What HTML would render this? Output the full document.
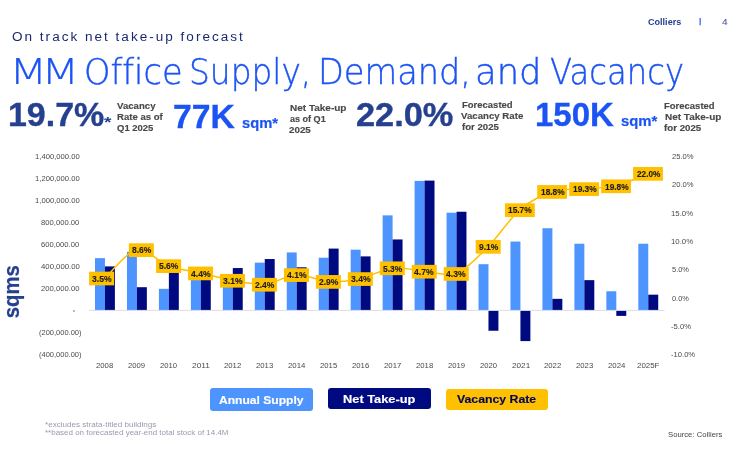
<!DOCTYPE html>
<html lang="en">
<head>
<meta charset="utf-8">
<title>MM Office Supply, Demand, and Vacancy</title>
<style>
html,body{margin:0;padding:0;background:#fff;}
body{width:740px;height:450px;position:relative;overflow:hidden;font-family:"Liberation Sans","DejaVu Sans",sans-serif;}
.t{position:absolute;white-space:nowrap;line-height:1;transform-origin:0 0;}
.chart{position:absolute;left:0;top:0;}
.leg{position:absolute;border-radius:3px;}
.ylab{position:absolute;left:0;top:0;white-space:nowrap;line-height:1;font-weight:bold;color:#25408f;transform-origin:0 0;-webkit-text-stroke:0.22px;}
</style>
</head>
<body>
<svg class="chart" width="740" height="450" viewBox="0 0 740 450">
<rect x="95.00" y="258.15" width="9.95" height="52.25" fill="#4d94ff"/>
<rect x="104.95" y="266.40" width="9.95" height="44.00" fill="#000a80"/>
<rect x="126.96" y="251.77" width="9.95" height="58.63" fill="#4d94ff"/>
<rect x="136.91" y="287.19" width="9.95" height="23.21" fill="#000a80"/>
<rect x="158.92" y="288.84" width="9.95" height="21.56" fill="#4d94ff"/>
<rect x="168.87" y="271.90" width="9.95" height="38.50" fill="#000a80"/>
<rect x="190.88" y="278.50" width="9.95" height="31.90" fill="#4d94ff"/>
<rect x="200.83" y="277.40" width="9.95" height="33.00" fill="#000a80"/>
<rect x="222.84" y="276.30" width="9.95" height="34.10" fill="#4d94ff"/>
<rect x="232.79" y="268.05" width="9.95" height="42.35" fill="#000a80"/>
<rect x="254.80" y="262.66" width="9.95" height="47.74" fill="#4d94ff"/>
<rect x="264.75" y="259.03" width="9.95" height="51.37" fill="#000a80"/>
<rect x="286.76" y="252.43" width="9.95" height="57.97" fill="#4d94ff"/>
<rect x="296.71" y="267.28" width="9.95" height="43.12" fill="#000a80"/>
<rect x="318.72" y="257.71" width="9.95" height="52.69" fill="#4d94ff"/>
<rect x="328.67" y="248.58" width="9.95" height="61.82" fill="#000a80"/>
<rect x="350.68" y="249.68" width="9.95" height="60.72" fill="#4d94ff"/>
<rect x="360.63" y="256.39" width="9.95" height="54.01" fill="#000a80"/>
<rect x="382.64" y="215.36" width="9.95" height="95.04" fill="#4d94ff"/>
<rect x="392.59" y="239.45" width="9.95" height="70.95" fill="#000a80"/>
<rect x="414.60" y="180.93" width="9.95" height="129.47" fill="#4d94ff"/>
<rect x="424.55" y="180.60" width="9.95" height="129.80" fill="#000a80"/>
<rect x="446.56" y="212.72" width="9.95" height="97.68" fill="#4d94ff"/>
<rect x="456.51" y="211.73" width="9.95" height="98.67" fill="#000a80"/>
<rect x="478.52" y="264.20" width="9.95" height="46.20" fill="#4d94ff"/>
<rect x="488.47" y="310.40" width="9.95" height="20.35" fill="#000a80"/>
<rect x="510.48" y="241.54" width="9.95" height="68.86" fill="#4d94ff"/>
<rect x="520.43" y="310.40" width="9.95" height="30.69" fill="#000a80"/>
<rect x="542.44" y="228.23" width="9.95" height="82.17" fill="#4d94ff"/>
<rect x="552.39" y="298.85" width="9.95" height="11.55" fill="#000a80"/>
<rect x="574.40" y="243.74" width="9.95" height="66.66" fill="#4d94ff"/>
<rect x="584.35" y="280.15" width="9.95" height="30.25" fill="#000a80"/>
<rect x="606.36" y="291.26" width="9.95" height="19.14" fill="#4d94ff"/>
<rect x="616.31" y="310.40" width="9.95" height="5.50" fill="#000a80"/>
<rect x="638.32" y="243.74" width="9.95" height="66.66" fill="#4d94ff"/>
<rect x="648.27" y="294.67" width="9.95" height="15.73" fill="#000a80"/>
<rect x="89" y="309.90" width="575.5" height="1" fill="#dcdde6"/>
<path d="M104.88,278.10 C109.41,274.01 127.78,250.93 136.84,249.25 C145.90,247.57 159.74,262.85 168.80,266.22 C177.86,269.59 191.70,271.00 200.76,273.01 C209.82,275.01 223.66,278.76 232.72,280.36 C241.78,281.97 255.62,285.12 264.68,284.32 C273.74,283.52 287.58,275.11 296.64,274.71 C305.70,274.31 319.54,280.93 328.60,281.49 C337.66,282.06 351.50,280.59 360.56,278.67 C369.62,276.74 383.46,268.96 392.52,267.92 C401.58,266.88 415.42,270.51 424.48,271.31 C433.54,272.11 447.38,277.10 456.44,273.57 C465.50,270.05 479.34,255.56 488.40,246.42 C497.46,237.28 511.30,216.86 520.36,209.08 C529.42,201.31 543.26,194.43 552.32,191.55 C561.38,188.66 575.22,189.52 584.28,188.72 C593.34,187.92 607.18,188.05 616.24,185.89 C625.30,183.72 643.67,175.21 648.20,173.44" fill="none" stroke="#ffc000" stroke-width="1.5" stroke-linejoin="round"/>
<rect x="89.08" y="271.65" width="25.0" height="13.7" fill="#ffc000"/>
<rect x="128.84" y="243.30" width="25.0" height="13.7" fill="#ffc000"/>
<rect x="156.10" y="259.27" width="25.0" height="13.7" fill="#ffc000"/>
<rect x="188.06" y="266.56" width="25.0" height="13.7" fill="#ffc000"/>
<rect x="220.02" y="273.91" width="25.0" height="13.7" fill="#ffc000"/>
<rect x="251.98" y="277.87" width="25.0" height="13.7" fill="#ffc000"/>
<rect x="283.94" y="268.26" width="25.0" height="13.7" fill="#ffc000"/>
<rect x="315.90" y="275.04" width="25.0" height="13.7" fill="#ffc000"/>
<rect x="347.86" y="272.22" width="25.0" height="13.7" fill="#ffc000"/>
<rect x="379.82" y="261.47" width="25.0" height="13.7" fill="#ffc000"/>
<rect x="411.78" y="264.86" width="25.0" height="13.7" fill="#ffc000"/>
<rect x="443.74" y="267.12" width="25.0" height="13.7" fill="#ffc000"/>
<rect x="475.70" y="239.97" width="25.0" height="13.7" fill="#ffc000"/>
<rect x="504.96" y="203.33" width="29.8" height="13.7" fill="#ffc000"/>
<rect x="537.22" y="185.10" width="29.8" height="13.7" fill="#ffc000"/>
<rect x="569.18" y="182.27" width="29.8" height="13.7" fill="#ffc000"/>
<rect x="601.14" y="179.44" width="29.8" height="13.7" fill="#ffc000"/>
<rect x="633.10" y="166.99" width="29.8" height="13.7" fill="#ffc000"/>
<rect x="73" y="310.6" width="1.9" height="0.8" fill="#4a4a4a"/>
</svg>
<div class="leg" style="left:210.2px;top:388.4px;width:102.9px;height:22.3px;background:#4d94ff;"></div>
<div class="leg" style="left:328.0px;top:388.3px;width:102.7px;height:21.0px;background:#000a80;"></div>
<div class="leg" style="left:445.7px;top:389.0px;width:102.7px;height:20.7px;background:#ffc000;"></div>
<div class="ylab" style="font-size:22.2px;transform:translate(1.4px,318.3px) rotate(-90deg) scaleX(0.915);">sqms</div>
<div class="t" style="left:648.20px;top:18.00px;color:#25408f;font-family:'Liberation Sans',sans-serif;font-size:8.4px;font-weight:bold;transform:scaleX(1.0826);">Colliers</div>
<div class="t" style="left:698.66px;top:16.90px;color:#4a74f6;font-family:'Liberation Sans',sans-serif;font-size:7.9px;font-weight:bold;-webkit-text-stroke:0.25px;transform:scaleX(1.1179);">|</div>
<div class="t" style="left:721.98px;top:17.80px;color:#3d4f95;font-family:'Liberation Sans',sans-serif;font-size:8.4px;transform:scaleX(1.2038);">4</div>
<div class="t" style="left:12.02px;top:30.50px;color:#1c2870;font-family:'Liberation Sans',sans-serif;font-size:12.5px;letter-spacing:1.85px;transform:scaleX(1.0836);">On track net take-up forecast</div>
<div class="t" style="left:8.80px;top:53.90px;color:#1c54f4;font-family:'DejaVu Sans Light','DejaVu Sans',sans-serif;font-weight:200;font-size:35.4px;font-variant-ligatures:none;-webkit-text-stroke:0.15px #1c54f4;letter-spacing:-5.1px;transform:scaleX(1.2621);">MM</div>
<div class="t" style="left:84.42px;top:53.90px;color:#1c54f4;font-family:'DejaVu Sans Light','DejaVu Sans',sans-serif;font-weight:200;font-size:35.4px;font-variant-ligatures:none;-webkit-text-stroke:0.42px #1c54f4;transform:scaleX(0.9497);">Office</div>
<div class="t" style="left:189.33px;top:53.90px;color:#1c54f4;font-family:'DejaVu Sans Light','DejaVu Sans',sans-serif;font-weight:200;font-size:35.4px;font-variant-ligatures:none;-webkit-text-stroke:0.42px #1c54f4;transform:scaleX(0.9273);">Supply,</div>
<div class="t" style="left:317.84px;top:53.90px;color:#1c54f4;font-family:'DejaVu Sans Light','DejaVu Sans',sans-serif;font-weight:200;font-size:35.4px;font-variant-ligatures:none;-webkit-text-stroke:0.42px #1c54f4;transform:scaleX(0.9480);">Demand,</div>
<div class="t" style="left:475.26px;top:53.90px;color:#1c54f4;font-family:'DejaVu Sans Light','DejaVu Sans',sans-serif;font-weight:200;font-size:35.4px;font-variant-ligatures:none;-webkit-text-stroke:0.42px #1c54f4;transform:scaleX(1.0001);">and</div>
<div class="t" style="left:549.62px;top:53.90px;color:#1c54f4;font-family:'DejaVu Sans Light','DejaVu Sans',sans-serif;font-weight:200;font-size:35.4px;font-variant-ligatures:none;-webkit-text-stroke:0.42px #1c54f4;transform:scaleX(0.9104);">Vacancy</div>
<div class="t" style="left:7.97px;top:99.30px;color:#25408f;font-family:'Liberation Sans',sans-serif;font-weight:bold;font-size:32.4px;-webkit-text-stroke:0.35px;transform:scaleX(1.0475);">19.7%</div>
<div class="t" style="left:103.64px;top:113.79px;color:#25408f;font-family:'Liberation Sans',sans-serif;font-weight:bold;font-size:15px;transform:scaleX(1.2710);">*</div>
<div class="t" style="left:172.97px;top:101.20px;color:#1c54f4;font-family:'Liberation Sans',sans-serif;font-weight:bold;font-size:32.4px;-webkit-text-stroke:0.35px;transform:scaleX(1.0402);">77K</div>
<div class="t" style="left:355.84px;top:98.80px;color:#25408f;font-family:'Liberation Sans',sans-serif;font-weight:bold;font-size:32.4px;-webkit-text-stroke:0.35px;transform:scaleX(1.0599);">22.0%</div>
<div class="t" style="left:534.63px;top:98.60px;color:#1c54f4;font-family:'Liberation Sans',sans-serif;font-weight:bold;font-size:32.4px;-webkit-text-stroke:0.35px;transform:scaleX(1.0182);">150K</div>
<div class="t" style="left:242.47px;top:116.20px;color:#1c54f4;font-family:'Liberation Sans',sans-serif;font-weight:bold;font-size:14.4px;-webkit-text-stroke:0.2px;transform:scaleX(1.0242);">sqm*</div>
<div class="t" style="left:620.87px;top:113.60px;color:#1c54f4;font-family:'Liberation Sans',sans-serif;font-weight:bold;font-size:14.4px;-webkit-text-stroke:0.2px;transform:scaleX(1.0331);">sqm*</div>
<div class="t" style="left:116.86px;top:102.00px;color:#4a4a4a;font-family:'Liberation Sans',sans-serif;font-weight:bold;font-size:9.2px;-webkit-text-stroke:0.15px;transform:scaleX(1.0472);">Vacancy</div>
<div class="t" style="left:117.48px;top:113.10px;color:#4a4a4a;font-family:'Liberation Sans',sans-serif;font-weight:bold;font-size:9.2px;-webkit-text-stroke:0.15px;transform:scaleX(1.0405);">Rate as of</div>
<div class="t" style="left:116.93px;top:123.50px;color:#4a4a4a;font-family:'Liberation Sans',sans-serif;font-weight:bold;font-size:9.2px;-webkit-text-stroke:0.15px;transform:scaleX(1.0320);">Q1 2025</div>
<div class="t" style="left:289.51px;top:104.40px;color:#4a4a4a;font-family:'Liberation Sans',sans-serif;font-weight:bold;font-size:9.2px;-webkit-text-stroke:0.15px;transform:scaleX(1.0879);">Net Take-up</div>
<div class="t" style="left:289.51px;top:115.10px;color:#4a4a4a;font-family:'Liberation Sans',sans-serif;font-weight:bold;font-size:9.2px;-webkit-text-stroke:0.15px;transform:scaleX(0.9844);">as of Q1</div>
<div class="t" style="left:289.25px;top:125.80px;color:#4a4a4a;font-family:'Liberation Sans',sans-serif;font-weight:bold;font-size:9.2px;-webkit-text-stroke:0.15px;transform:scaleX(1.0654);">2025</div>
<div class="t" style="left:461.78px;top:101.40px;color:#4a4a4a;font-family:'Liberation Sans',sans-serif;font-weight:bold;font-size:9.2px;-webkit-text-stroke:0.15px;transform:scaleX(1.0325);">Forecasted</div>
<div class="t" style="left:461.36px;top:112.10px;color:#4a4a4a;font-family:'Liberation Sans',sans-serif;font-weight:bold;font-size:9.2px;-webkit-text-stroke:0.15px;transform:scaleX(1.0506);">Vacancy Rate</div>
<div class="t" style="left:461.61px;top:122.70px;color:#4a4a4a;font-family:'Liberation Sans',sans-serif;font-weight:bold;font-size:9.2px;-webkit-text-stroke:0.15px;transform:scaleX(1.0470);">for 2025</div>
<div class="t" style="left:664.48px;top:102.30px;color:#4a4a4a;font-family:'Liberation Sans',sans-serif;font-weight:bold;font-size:9.2px;-webkit-text-stroke:0.15px;transform:scaleX(1.0325);">Forecasted</div>
<div class="t" style="left:664.51px;top:113.10px;color:#4a4a4a;font-family:'Liberation Sans',sans-serif;font-weight:bold;font-size:9.2px;-webkit-text-stroke:0.15px;transform:scaleX(1.0859);">Net Take-up</div>
<div class="t" style="left:664.30px;top:123.70px;color:#4a4a4a;font-family:'Liberation Sans',sans-serif;font-weight:bold;font-size:9.2px;-webkit-text-stroke:0.15px;transform:scaleX(1.0558);">for 2025</div>
<div class="t" style="left:219.14px;top:393.70px;color:#ffffff;font-family:'Liberation Sans',sans-serif;font-weight:bold;font-size:11.7px;-webkit-text-stroke:0.15px;transform:scaleX(1.0329);">Annual Supply</div>
<div class="t" style="left:343.27px;top:392.90px;color:#ffffff;font-family:'Liberation Sans',sans-serif;font-weight:bold;font-size:11.7px;-webkit-text-stroke:0.15px;transform:scaleX(1.0961);">Net Take-up</div>
<div class="t" style="left:457.14px;top:392.90px;color:#000759;font-family:'Liberation Sans',sans-serif;font-weight:bold;font-size:11.7px;-webkit-text-stroke:0.15px;transform:scaleX(1.0502);">Vacancy Rate</div>
<div class="t" style="left:45.00px;top:421.50px;color:#9a9ab0;font-family:'Liberation Sans',sans-serif;font-size:6.9px;transform:scaleX(1.1727);">*excludes strata-titled buildings</div>
<div class="t" style="left:45.17px;top:430.30px;color:#9a9ab0;font-family:'Liberation Sans',sans-serif;font-size:6.9px;transform:scaleX(1.1571);">**based on forecasted year-end total stock of 14.4M</div>
<div class="t" style="left:667.95px;top:432.10px;color:#454545;font-family:'Liberation Sans',sans-serif;font-size:6.9px;transform:scaleX(1.1169);">Source: Colliers</div>
<div class="t" style="left:34.63px;top:154.00px;color:#4a4a4a;font-family:'Liberation Sans',sans-serif;font-size:7.1px;transform:scaleX(1.0782);">1,400,000.00</div>
<div class="t" style="left:34.63px;top:176.00px;color:#4a4a4a;font-family:'Liberation Sans',sans-serif;font-size:7.1px;transform:scaleX(1.0782);">1,200,000.00</div>
<div class="t" style="left:34.63px;top:198.00px;color:#4a4a4a;font-family:'Liberation Sans',sans-serif;font-size:7.1px;transform:scaleX(1.0782);">1,000,000.00</div>
<div class="t" style="left:41.08px;top:220.00px;color:#4a4a4a;font-family:'Liberation Sans',sans-serif;font-size:7.1px;transform:scaleX(1.0789);">800,000.00</div>
<div class="t" style="left:41.22px;top:242.00px;color:#4a4a4a;font-family:'Liberation Sans',sans-serif;font-size:7.1px;transform:scaleX(1.0749);">600,000.00</div>
<div class="t" style="left:40.50px;top:264.00px;color:#4a4a4a;font-family:'Liberation Sans',sans-serif;font-size:7.1px;transform:scaleX(1.0953);">400,000.00</div>
<div class="t" style="left:40.87px;top:286.00px;color:#4a4a4a;font-family:'Liberation Sans',sans-serif;font-size:7.1px;transform:scaleX(1.0849);">200,000.00</div>
<div class="t" style="left:38.73px;top:329.90px;color:#4a4a4a;font-family:'Liberation Sans',sans-serif;font-size:7.1px;transform:scaleX(1.0567);">(200,000.00)</div>
<div class="t" style="left:38.73px;top:351.90px;color:#4a4a4a;font-family:'Liberation Sans',sans-serif;font-size:7.1px;transform:scaleX(1.0567);">(400,000.00)</div>
<div class="t" style="left:671.67px;top:154.00px;color:#4a4a4a;font-family:'Liberation Sans',sans-serif;font-size:7.1px;transform:scaleX(1.0766);">25.0%</div>
<div class="t" style="left:671.67px;top:182.00px;color:#4a4a4a;font-family:'Liberation Sans',sans-serif;font-size:7.1px;transform:scaleX(1.0766);">20.0%</div>
<div class="t" style="left:671.22px;top:211.00px;color:#4a4a4a;font-family:'Liberation Sans',sans-serif;font-size:7.1px;transform:scaleX(1.0996);">15.0%</div>
<div class="t" style="left:671.22px;top:239.00px;color:#4a4a4a;font-family:'Liberation Sans',sans-serif;font-size:7.1px;transform:scaleX(1.0996);">10.0%</div>
<div class="t" style="left:671.88px;top:267.00px;color:#4a4a4a;font-family:'Liberation Sans',sans-serif;font-size:7.1px;transform:scaleX(1.0516);">5.0%</div>
<div class="t" style="left:672.10px;top:296.00px;color:#4a4a4a;font-family:'Liberation Sans',sans-serif;font-size:7.1px;transform:scaleX(1.0377);">0.0%</div>
<div class="t" style="left:671.19px;top:324.00px;color:#4a4a4a;font-family:'Liberation Sans',sans-serif;font-size:7.1px;transform:scaleX(1.0863);">-5.0%</div>
<div class="t" style="left:671.42px;top:352.00px;color:#4a4a4a;font-family:'Liberation Sans',sans-serif;font-size:7.1px;transform:scaleX(1.0742);">-10.0%</div>
<div class="t" style="left:96.15px;top:362.60px;color:#4a4a4a;font-family:'Liberation Sans',sans-serif;font-size:7.1px;transform:scaleX(1.0899);">2008</div>
<div class="t" style="left:128.11px;top:362.60px;color:#4a4a4a;font-family:'Liberation Sans',sans-serif;font-size:7.1px;transform:scaleX(1.0841);">2009</div>
<div class="t" style="left:160.07px;top:362.60px;color:#4a4a4a;font-family:'Liberation Sans',sans-serif;font-size:7.1px;transform:scaleX(1.0818);">2010</div>
<div class="t" style="left:191.99px;top:362.60px;color:#4a4a4a;font-family:'Liberation Sans',sans-serif;font-size:7.1px;transform:scaleX(1.1797);">2011</div>
<div class="t" style="left:223.99px;top:362.60px;color:#4a4a4a;font-family:'Liberation Sans',sans-serif;font-size:7.1px;transform:scaleX(1.0929);">2012</div>
<div class="t" style="left:255.95px;top:362.60px;color:#4a4a4a;font-family:'Liberation Sans',sans-serif;font-size:7.1px;transform:scaleX(1.0894);">2013</div>
<div class="t" style="left:287.90px;top:362.60px;color:#4a4a4a;font-family:'Liberation Sans',sans-serif;font-size:7.1px;transform:scaleX(1.1035);">2014</div>
<div class="t" style="left:319.87px;top:362.60px;color:#4a4a4a;font-family:'Liberation Sans',sans-serif;font-size:7.1px;transform:scaleX(1.0892);">2015</div>
<div class="t" style="left:351.83px;top:362.60px;color:#4a4a4a;font-family:'Liberation Sans',sans-serif;font-size:7.1px;transform:scaleX(1.0893);">2016</div>
<div class="t" style="left:383.78px;top:362.60px;color:#4a4a4a;font-family:'Liberation Sans',sans-serif;font-size:7.1px;transform:scaleX(1.1002);">2017</div>
<div class="t" style="left:415.75px;top:362.60px;color:#4a4a4a;font-family:'Liberation Sans',sans-serif;font-size:7.1px;transform:scaleX(1.0899);">2018</div>
<div class="t" style="left:447.71px;top:362.60px;color:#4a4a4a;font-family:'Liberation Sans',sans-serif;font-size:7.1px;transform:scaleX(1.0841);">2019</div>
<div class="t" style="left:479.67px;top:362.60px;color:#4a4a4a;font-family:'Liberation Sans',sans-serif;font-size:7.1px;transform:scaleX(1.0818);">2020</div>
<div class="t" style="left:511.60px;top:362.60px;color:#4a4a4a;font-family:'Liberation Sans',sans-serif;font-size:7.1px;transform:scaleX(1.1552);">2021</div>
<div class="t" style="left:543.59px;top:362.60px;color:#4a4a4a;font-family:'Liberation Sans',sans-serif;font-size:7.1px;transform:scaleX(1.0929);">2022</div>
<div class="t" style="left:575.55px;top:362.60px;color:#4a4a4a;font-family:'Liberation Sans',sans-serif;font-size:7.1px;transform:scaleX(1.0894);">2023</div>
<div class="t" style="left:607.50px;top:362.60px;color:#4a4a4a;font-family:'Liberation Sans',sans-serif;font-size:7.1px;transform:scaleX(1.1035);">2024</div>
<div class="t" style="left:637.06px;top:362.60px;color:#4a4a4a;font-family:'Liberation Sans',sans-serif;font-size:7.1px;transform:scaleX(1.1151);">2025F</div>
<div class="t" style="left:91.80px;top:274.80px;color:#1c1c1c;font-family:'Liberation Sans',sans-serif;font-weight:bold;font-size:8.6px;-webkit-text-stroke:0.12px;transform:scaleX(0.9987);">3.5%</div>
<div class="t" style="left:131.78px;top:246.45px;color:#1c1c1c;font-family:'Liberation Sans',sans-serif;font-weight:bold;font-size:8.6px;-webkit-text-stroke:0.12px;transform:scaleX(0.9872);">8.6%</div>
<div class="t" style="left:159.12px;top:262.42px;color:#1c1c1c;font-family:'Liberation Sans',sans-serif;font-weight:bold;font-size:8.6px;-webkit-text-stroke:0.12px;transform:scaleX(0.9834);">5.6%</div>
<div class="t" style="left:190.73px;top:269.71px;color:#1c1c1c;font-family:'Liberation Sans',sans-serif;font-weight:bold;font-size:8.6px;-webkit-text-stroke:0.12px;transform:scaleX(1.0011);">4.4%</div>
<div class="t" style="left:222.74px;top:277.06px;color:#1c1c1c;font-family:'Liberation Sans',sans-serif;font-weight:bold;font-size:8.6px;-webkit-text-stroke:0.12px;transform:scaleX(0.9987);">3.1%</div>
<div class="t" style="left:254.89px;top:281.02px;color:#1c1c1c;font-family:'Liberation Sans',sans-serif;font-weight:bold;font-size:8.6px;-webkit-text-stroke:0.12px;transform:scaleX(0.9887);">2.4%</div>
<div class="t" style="left:286.61px;top:271.41px;color:#1c1c1c;font-family:'Liberation Sans',sans-serif;font-weight:bold;font-size:8.6px;-webkit-text-stroke:0.12px;transform:scaleX(1.0011);">4.1%</div>
<div class="t" style="left:318.81px;top:278.19px;color:#1c1c1c;font-family:'Liberation Sans',sans-serif;font-weight:bold;font-size:8.6px;-webkit-text-stroke:0.12px;transform:scaleX(0.9887);">2.9%</div>
<div class="t" style="left:350.58px;top:275.37px;color:#1c1c1c;font-family:'Liberation Sans',sans-serif;font-weight:bold;font-size:8.6px;-webkit-text-stroke:0.12px;transform:scaleX(0.9987);">3.4%</div>
<div class="t" style="left:382.84px;top:264.62px;color:#1c1c1c;font-family:'Liberation Sans',sans-serif;font-weight:bold;font-size:8.6px;-webkit-text-stroke:0.12px;transform:scaleX(0.9834);">5.3%</div>
<div class="t" style="left:414.45px;top:268.01px;color:#1c1c1c;font-family:'Liberation Sans',sans-serif;font-weight:bold;font-size:8.6px;-webkit-text-stroke:0.12px;transform:scaleX(1.0011);">4.7%</div>
<div class="t" style="left:446.41px;top:270.27px;color:#1c1c1c;font-family:'Liberation Sans',sans-serif;font-weight:bold;font-size:8.6px;-webkit-text-stroke:0.12px;transform:scaleX(1.0011);">4.3%</div>
<div class="t" style="left:478.64px;top:243.12px;color:#1c1c1c;font-family:'Liberation Sans',sans-serif;font-weight:bold;font-size:8.6px;-webkit-text-stroke:0.12px;transform:scaleX(0.9873);">9.1%</div>
<div class="t" style="left:508.36px;top:206.48px;color:#1c1c1c;font-family:'Liberation Sans',sans-serif;font-weight:bold;font-size:8.6px;-webkit-text-stroke:0.12px;transform:scaleX(0.9706);">15.7%</div>
<div class="t" style="left:540.62px;top:188.25px;color:#1c1c1c;font-family:'Liberation Sans',sans-serif;font-weight:bold;font-size:8.6px;-webkit-text-stroke:0.12px;transform:scaleX(0.9706);">18.8%</div>
<div class="t" style="left:572.58px;top:185.42px;color:#1c1c1c;font-family:'Liberation Sans',sans-serif;font-weight:bold;font-size:8.6px;-webkit-text-stroke:0.12px;transform:scaleX(0.9706);">19.3%</div>
<div class="t" style="left:604.54px;top:182.59px;color:#1c1c1c;font-family:'Liberation Sans',sans-serif;font-weight:bold;font-size:8.6px;-webkit-text-stroke:0.12px;transform:scaleX(0.9706);">19.8%</div>
<div class="t" style="left:636.83px;top:170.14px;color:#1c1c1c;font-family:'Liberation Sans',sans-serif;font-weight:bold;font-size:8.6px;-webkit-text-stroke:0.12px;transform:scaleX(0.9569);">22.0%</div>
</body>
</html>
